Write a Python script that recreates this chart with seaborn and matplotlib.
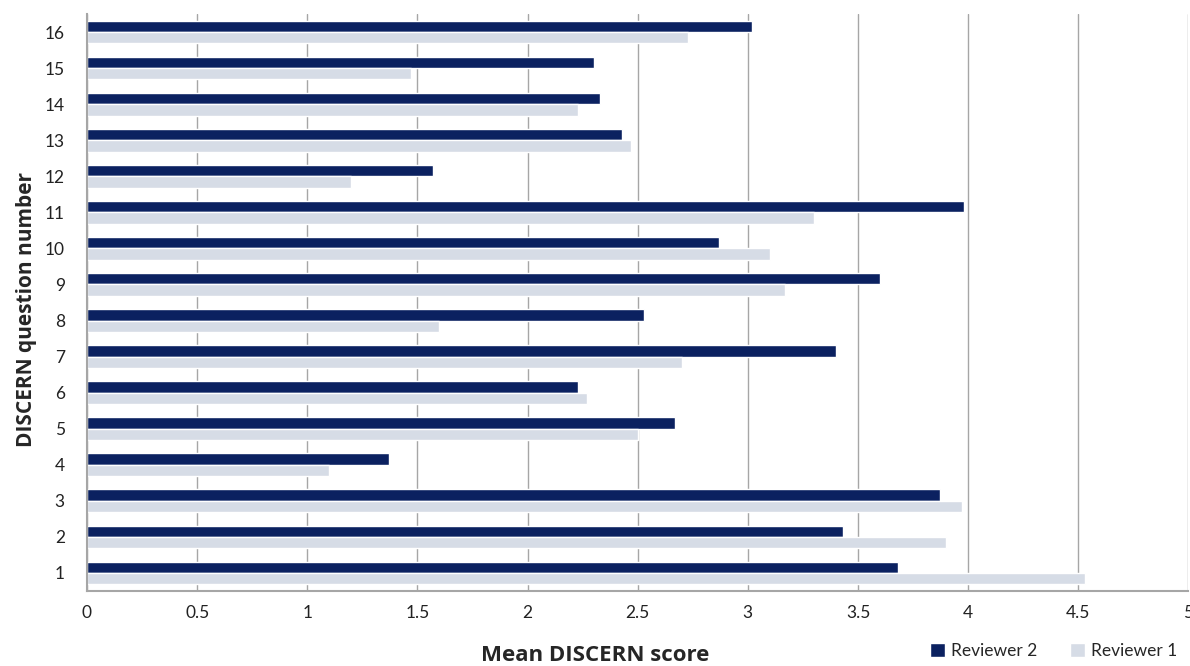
import pandas as pd
import numpy as np
import matplotlib
matplotlib.use("Agg")
import matplotlib.pyplot as plt
import seaborn as sns

# données
questions = ['16', '15', '14', '13', '12', '11', '10', '9', '8', '7', '6', '5', '4', '3', '2', '1']
reviewer2 = [3.02, 2.30, 2.33, 2.43, 1.57, 3.98, 2.87, 3.60, 2.53, 3.40, 2.23, 2.67, 1.37, 3.87, 3.43, 3.68]
reviewer1 = [2.73, 1.47, 2.23, 2.47, 1.20, 3.30, 3.10, 3.17, 1.60, 2.70, 2.27, 2.50, 1.10, 3.97, 3.90, 4.53]
series = ['Reviewer 2', 'Reviewer 1']
colors = ['#0b2160', '#d6dce6']
xticks = ['0', '0.5', '1', '1.5', '2', '2.5', '3', '3.5', '4', '4.5', '5']

df = pd.DataFrame({'question': questions, 'Reviewer 2': reviewer2, 'Reviewer 1': reviewer1})
df_long = df.melt(id_vars='question', var_name='reviewer', value_name='score')

sns.set_style("white")
plt.rcParams['font.family'] = ['Lato', 'DejaVu Sans']

fig = plt.figure(figsize=(11.9, 6.66), dpi=100)
ax = fig.add_axes([0.0731, 0.1126, 0.9256, 0.8664])

sns.barplot(data=df_long, y='question', x='score', hue='reviewer', order=questions,
            hue_order=series, palette=colors, orient='h', width=0.63, ax=ax,
            saturation=1, legend=True)

ax.set_xlim(0, 5)
ax.set_xticks(np.arange(0, 5.01, 0.5))
ax.set_xticklabels(xticks)
ax.set_ylim(len(questions) - 0.5, -0.5)

ax.grid(axis='x', color='#a6a6a6', linewidth=1)
ax.set_axisbelow(True)
for s in ['top', 'right']:
    ax.spines[s].set_visible(False)
for s in ['left', 'bottom']:
    ax.spines[s].set_color('#a6a6a6')
    ax.spines[s].set_linewidth(1.5)

# petits traits entre les catégories, comme dans Excel
ax.set_yticks(np.arange(-0.5, len(questions), 1.0), minor=True)
ax.tick_params(axis='y', which='minor', length=6, width=1.2, color='#a6a6a6', direction='out')
ax.tick_params(axis='y', which='major', length=0, pad=16, labelsize=12.5, labelcolor='#222222')
ax.tick_params(axis='x', which='major', length=8, width=1.2, color='#a6a6a6', direction='inout',
               pad=6, labelsize=12.5, labelcolor='#222222')

ax.set_xlabel('')
ax.set_ylabel('')
fig.text(0.0225, 0.535, 'DISCERN question number', fontsize=15, fontweight='bold',
         family=['Open Sans', 'DejaVu Sans'], rotation=90, ha='center', va='center')
fig.text(0.5, 0.0155, 'Mean DISCERN score', fontsize=16, fontweight='bold',
         family=['Open Sans', 'DejaVu Sans'], ha='center', va='center')

handles, labels = ax.get_legend_handles_labels()
ax.get_legend().remove()
fig.legend(handles, labels, loc='center right', bbox_to_anchor=(0.995, 0.0225), ncol=2,
           frameon=False, fontsize=12.5, handlelength=0.85, handleheight=0.85,
           handletextpad=0.35, columnspacing=1.9, borderaxespad=0)

fig.savefig('out.png', dpi=100)
